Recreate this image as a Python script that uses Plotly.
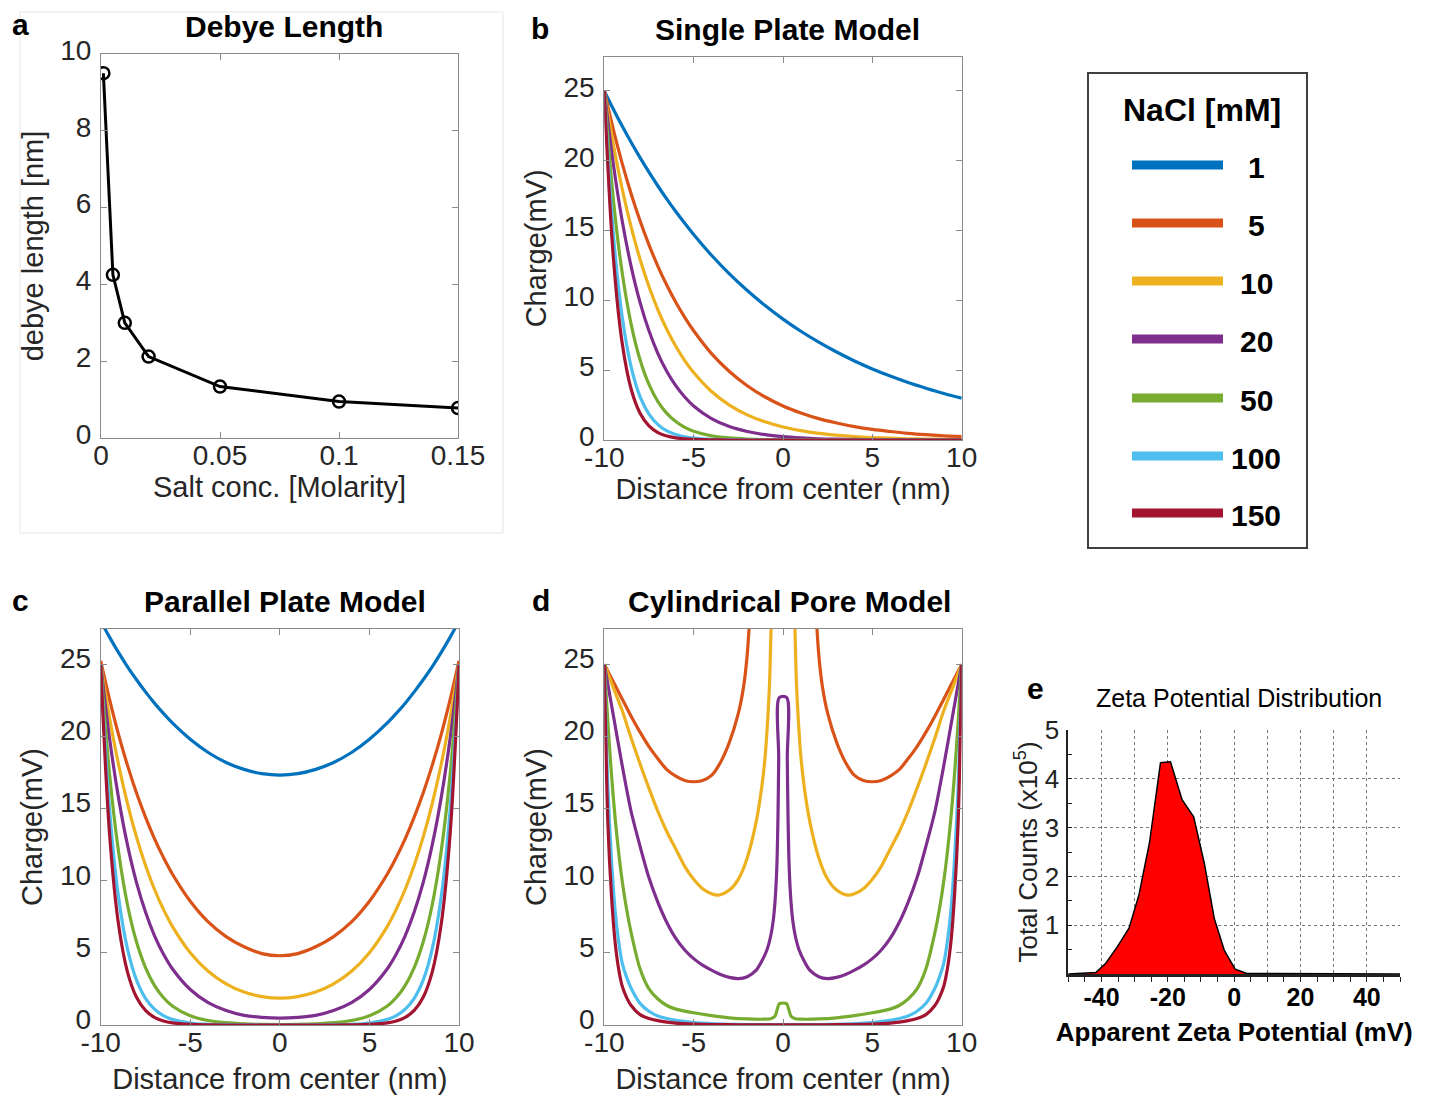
import plotly.graph_objects as go

FONT = "Arial, 'Liberation Sans', Helvetica, sans-serif"
W, H = 1437, 1100

# ---------------- data ----------------
nacl_labels = ["1", "5", "10", "20", "50", "100", "150"]
colors = ["#0072BD", "#D95319", "#EDB120", "#7E2F8E", "#77AC30", "#4DBEEE", "#A2142F"]

# (a) Debye length
salt_conc = [0.001, 0.005, 0.01, 0.02, 0.05, 0.1, 0.15]
debye_len = [9.5, 4.25, 3.0, 2.12, 1.34, 0.95, 0.78]

# (b) Single plate model
xb = [-10, -9.5, -9, -8.5, -8, -7.5, -7, -6.5, -6, -5.5, -5, -4, -3, -2, -1, 0,
      1, 2, 3, 4, 5, 6, 7, 8, 9, 10]
b_1 = [25.0, 23.71, 22.48, 21.32, 20.22, 19.18, 18.19, 17.25, 16.36, 15.52, 14.72, 13.23, 11.90,
       10.71, 9.63, 8.66, 7.79, 7.01, 6.30, 5.66, 5.09, 4.58, 4.12, 3.71, 3.33, 3.00]
b_5 = [25.0, 22.26, 19.81, 17.64, 15.70, 13.98, 12.44, 11.08, 9.86, 8.78, 7.82, 6.19, 4.91,
       3.89, 3.08, 2.44, 1.94, 1.53, 1.22, 0.96, 0.76, 0.61, 0.48, 0.38, 0.30, 0.24]
b_10 = [25.0, 21.21, 17.99, 15.26, 12.95, 10.99, 9.32, 7.91, 6.71, 5.69, 4.83, 3.47, 2.50,
        1.80, 1.30, 0.93, 0.67, 0.48, 0.35, 0.25, 0.18, 0.13, 0.09, 0.07, 0.05, 0.03]
b_20 = [25.0, 19.81, 15.70, 12.44, 9.86, 7.82, 6.19, 4.91, 3.89, 3.08, 2.44, 1.53, 0.96,
        0.61, 0.38, 0.24, 0.15, 0.09, 0.06, 0.04, 0.02, 0.01, 0.01, 0.0, 0.0, 0.0]
b_50 = [25.0, 17.31, 11.99, 8.30, 5.75, 3.98, 2.75, 1.91, 1.32, 0.91, 0.63, 0.30, 0.15,
        0.07, 0.03, 0.02, 0.01, 0.0, 0.0, 0.0, 0.0, 0.0, 0.0, 0.0, 0.0, 0.0]
b_100 = [25.0, 14.85, 8.82, 5.24, 3.11, 1.85, 1.10, 0.65, 0.39, 0.23, 0.14, 0.05, 0.02,
         0.01, 0.0, 0.0, 0.0, 0.0, 0.0, 0.0, 0.0, 0.0, 0.0, 0.0, 0.0, 0.0]
b_150 = [25.0, 13.17, 6.94, 3.65, 1.92, 1.01, 0.53, 0.28, 0.15, 0.08, 0.04, 0.01, 0.0,
         0.0, 0.0, 0.0, 0.0, 0.0, 0.0, 0.0, 0.0, 0.0, 0.0, 0.0, 0.0, 0.0]

# (c) Parallel plate model
xc = [-10, -9.5, -9, -8.5, -8, -7.5, -7, -6.5, -6, -5, -4, -3, -2, -1, 0,
      1, 2, 3, 4, 5, 6, 6.5, 7, 7.5, 8, 8.5, 9, 9.5, 10]
c_1 = [28.00, 26.87, 25.81, 24.83, 23.93, 23.09, 22.31, 21.60, 20.94, 19.81, 18.89, 18.20, 17.72, 17.42, 17.32,
       17.42, 17.72, 18.20, 18.89, 19.81, 20.94, 21.60, 22.31, 23.09, 23.93, 24.83, 25.81, 26.87, 28.00]
c_5 = [25.24, 22.53, 20.11, 17.98, 16.08, 14.41, 12.92, 11.62, 10.47, 8.58, 7.15, 6.13, 5.42, 4.95, 4.8,
       4.95, 5.42, 6.13, 7.15, 8.58, 10.47, 11.62, 12.92, 14.41, 16.08, 17.98, 20.11, 22.53, 25.24]
c_10 = [25.03, 21.25, 18.04, 15.32, 13.02, 11.07, 9.41, 8.02, 6.84, 5.01, 3.72, 2.85, 2.28, 1.97, 1.86,
        1.97, 2.28, 2.85, 3.72, 5.01, 6.84, 8.02, 9.41, 11.07, 13.02, 15.32, 18.04, 21.25, 25.03]
c_20 = [25.0, 19.81, 15.71, 12.45, 9.87, 7.83, 6.20, 4.92, 3.90, 2.46, 1.55, 1.00, 0.67, 0.53, 0.48,
        0.53, 0.67, 1.00, 1.55, 2.46, 3.90, 4.92, 6.20, 7.83, 9.87, 12.45, 15.71, 19.81, 25.0]
c_50 = [25.0, 17.31, 11.99, 8.30, 5.75, 3.98, 2.75, 1.91, 1.32, 0.64, 0.31, 0.16, 0.08, 0.04, 0.03,
        0.04, 0.08, 0.16, 0.31, 0.64, 1.32, 1.91, 2.75, 3.98, 5.75, 8.30, 11.99, 17.31, 25.0]
c_100 = [25.0, 14.85, 8.82, 5.24, 3.11, 1.85, 1.10, 0.65, 0.39, 0.14, 0.05, 0.02, 0.01, 0.0, 0.0,
         0.0, 0.01, 0.02, 0.05, 0.14, 0.39, 0.65, 1.10, 1.85, 3.11, 5.24, 8.82, 14.85, 25.0]
c_150 = [25.0, 13.17, 6.94, 3.65, 1.92, 1.01, 0.53, 0.28, 0.15, 0.04, 0.01, 0.0, 0.0, 0.0, 0.0,
         0.0, 0.0, 0.0, 0.01, 0.04, 0.15, 0.28, 0.53, 1.01, 1.92, 3.65, 6.94, 13.17, 25.0]

# (d) Cylindrical pore model (1 mM curve lies entirely above the shown range)
d5_x = [-10, -9.5, -9, -8.5, -8, -7.5, -7, -6.5, -6, -5.5, -5, -4.5, -4, -3.5, -3, -2.5, -2.2, -2.0, -1.85,
        None,
        1.85, 2.0, 2.2, 2.5, 3, 3.5, 4, 4.5, 5, 5.5, 6, 6.5, 7, 7.5, 8, 8.5, 9, 9.5, 10]
d5_y = [25.0, 23.8, 22.6, 21.4, 20.3, 19.3, 18.45, 17.7, 17.25, 16.95, 16.86, 16.95, 17.3, 18.2, 19.6, 21.6, 23.5, 25.7, 28.5,
        None,
        28.5, 25.7, 23.5, 21.6, 19.6, 18.2, 17.3, 16.95, 16.86, 16.95, 17.25, 17.7, 18.45, 19.3, 20.3, 21.4, 22.6, 23.8, 25.0]
d10_x = [-10, -9.5, -9, -8.5, -8, -7.5, -7, -6.5, -6, -5.5, -5, -4.5, -4, -3.6, -3, -2.5, -2, -1.5, -1.2, -1.0, -0.85, -0.75, -0.65,
         None,
         0.65, 0.75, 0.85, 1.0, 1.2, 1.5, 2, 2.5, 3, 3.6, 4, 4.5, 5, 5.5, 6, 6.5, 7, 7.5, 8, 8.5, 9, 9.5, 10]
d10_y = [25.0, 23.4, 21.8, 19.9, 18.1, 16.4, 14.8, 13.4, 12.2, 11.0, 10.1, 9.45, 9.1, 9.0, 9.35, 10.1, 11.6, 14.1, 16.4, 18.6, 21.3, 23.8, 28.5,
         None,
         28.5, 23.8, 21.3, 18.6, 16.4, 14.1, 11.6, 10.1, 9.35, 9.0, 9.1, 9.45, 10.1, 11.0, 12.2, 13.4, 14.8, 16.4, 18.1, 19.9, 21.8, 23.4, 25.0]
d20_x = [-10, -9.5, -9, -8.5, -8, -7.5, -7, -6.5, -6, -5.5, -5, -4.5, -4, -3.5, -3, -2.5, -2, -1.5, -1.2, -0.9, -0.7, -0.55, -0.45, -0.35, -0.28, -0.24, -0.21,
         0.21, 0.24, 0.28, 0.35, 0.45, 0.55, 0.7, 0.9, 1.2, 1.5, 2, 2.5, 3, 3.5, 4, 4.5, 5, 5.5, 6, 6.5, 7, 7.5, 8, 8.5, 9, 9.5, 10]
d20_y = [25.0, 21.5, 18.0, 14.8, 12.4, 10.2, 8.5, 7.1, 6.0, 5.2, 4.6, 4.15, 3.8, 3.5, 3.3, 3.22, 3.35, 3.8, 4.4, 5.2, 6.1, 7.2, 8.5, 10.8, 14.5, 18.5, 22.7,
         22.7, 18.5, 14.5, 10.8, 8.5, 7.2, 6.1, 5.2, 4.4, 3.8, 3.35, 3.22, 3.3, 3.5, 3.8, 4.15, 4.6, 5.2, 6.0, 7.1, 8.5, 10.2, 12.4, 14.8, 18.0, 21.5, 25.0]
d50_x = [-10, -9.8, -9.6, -9.4, -9.2, -9.0, -8.75, -8.5, -8.0, -7.5, -7.0, -6.5, -6.0, -5.0, -4.0, -3.0, -2.0, -1.2, -0.7, -0.45, -0.32, -0.22, -0.15,
         0.15, 0.22, 0.32, 0.45, 0.7, 1.2, 2.0, 3.0, 4.0, 5.0, 6.0, 6.5, 7.0, 7.5, 8.0, 8.5, 8.75, 9.0, 9.2, 9.4, 9.6, 9.8, 10]
d50_y = [25.0, 21.0, 17.4, 14.4, 12.0, 10.0, 8.0, 6.4, 3.9, 2.5, 1.8, 1.35, 1.1, 0.85, 0.65, 0.5, 0.42, 0.4, 0.43, 0.6, 1.1, 1.45, 1.5,
         1.5, 1.45, 1.1, 0.6, 0.43, 0.4, 0.42, 0.5, 0.65, 0.85, 1.1, 1.35, 1.8, 2.5, 3.9, 6.4, 8.0, 10.0, 12.0, 14.4, 17.4, 21.0, 25.0]
d100_x = [-10, -9.8, -9.6, -9.4, -9.2, -9.0, -8.75, -8.5, -8.0, -7.5, -7.0, -6.5, -6.0, -5.0, -4.0, -3.0, -2.0, -1.0, 0,
          1.0, 2.0, 3.0, 4.0, 5.0, 6.0, 6.5, 7.0, 7.5, 8.0, 8.5, 8.75, 9.0, 9.2, 9.4, 9.6, 9.8, 10]
d100_y = [25.0, 16.5, 11.5, 8.0, 5.8, 4.3, 3.3, 2.55, 1.5, 0.95, 0.62, 0.45, 0.32, 0.17, 0.09, 0.05, 0.03, 0.02, 0.02,
          0.02, 0.03, 0.05, 0.09, 0.17, 0.32, 0.45, 0.62, 0.95, 1.5, 2.55, 3.3, 4.3, 5.8, 8.0, 11.5, 16.5, 25.0]
d150_x = [-10, -9.8, -9.6, -9.4, -9.2, -9.0, -8.75, -8.5, -8.0, -7.5, -7.0, -6.5, -6.0, -5.0, -4.0, -3.0, -2.0, -1.0, 0,
          1.0, 2.0, 3.0, 4.0, 5.0, 6.0, 6.5, 7.0, 7.5, 8.0, 8.5, 8.75, 9.0, 9.2, 9.4, 9.6, 9.8, 10]
d150_y = [25.0, 14.0, 9.0, 5.8, 3.9, 2.7, 1.9, 1.35, 0.72, 0.45, 0.3, 0.2, 0.13, 0.06, 0.03, 0.02, 0.01, 0.01, 0.01,
          0.01, 0.01, 0.02, 0.03, 0.06, 0.13, 0.2, 0.3, 0.45, 0.72, 1.35, 1.9, 2.7, 3.9, 5.8, 9.0, 14.0, 25.0]

# (e) Zeta potential distribution
zeta_mv = [-50, -44.7, -41.7, -38.7, -35.2, -31.7, -28.7, -25.5, -22.2, -19.2, -15.7, -12.2, -9.0, -6.0, -3.0, 0.3, 3.8, 50]
zeta_counts = [0, 0.01, 0.03, 0.22, 0.56, 0.94, 1.62, 2.7, 4.33, 4.35, 3.57, 3.22, 2.27, 1.14, 0.49, 0.10, 0.01, 0]

dist_ticks = [-10, -5, 0, 5, 10]
dist_ticktext = ["-10", "-5", "0", "5", "10"]
charge_ticks = [0, 5, 10, 15, 20, 25]
# plain hyphen for negative zeta tick labels
zeta_label_alias = {"\u221240": "-40", "\u221220": "-20"}

# ---------------- figure ----------------
def px(x):
    return x / W

def py(y):
    return 1 - y / H

fig = go.Figure()
LW = 3.2

# (a)
fig.add_trace(go.Scatter(x=salt_conc, y=debye_len, mode="lines+markers",
                         line=dict(color="black", width=3),
                         marker=dict(symbol="circle-open", size=12, color="black", line=dict(width=2.5)),
                         xaxis="x", yaxis="y", showlegend=False))

# (b)
b_series = [b_1, b_5, b_10, b_20, b_50, b_100, b_150]
for ys, col, lab in zip(b_series, colors, nacl_labels):
    fig.add_trace(go.Scatter(x=xb, y=ys, mode="lines", line=dict(color=col, width=LW, shape="spline"),
                             name=lab + " mM", xaxis="x2", yaxis="y2", showlegend=False))

# (c)
c_series = [c_1, c_5, c_10, c_20, c_50, c_100, c_150]
for ys, col, lab in zip(c_series, colors, nacl_labels):
    fig.add_trace(go.Scatter(x=xc, y=ys, mode="lines", line=dict(color=col, width=LW, shape="spline"),
                             name=lab + " mM", xaxis="x3", yaxis="y3", showlegend=False))

# (d)
d_series = [(d5_x, d5_y), (d10_x, d10_y), (d20_x, d20_y), (d50_x, d50_y), (d100_x, d100_y), (d150_x, d150_y)]
for (xs, ys), col, lab in zip(d_series, colors[1:], nacl_labels[1:]):
    fig.add_trace(go.Scatter(x=xs, y=ys, mode="lines", connectgaps=False,
                             line=dict(color=col, width=LW, shape="spline", smoothing=0.8),
                             name=lab + " mM", xaxis="x4", yaxis="y4", showlegend=False))

# (e)
fig.add_trace(go.Scatter(x=zeta_mv, y=zeta_counts, mode="lines", fill="tozeroy",
                         fillcolor="#FF0000", line=dict(color="black", width=1.5),
                         xaxis="x5", yaxis="y5", showlegend=False))

tick_font = dict(family=FONT, size=28, color="#262626")
title_font = dict(family=FONT, size=29, color="#262626")
box_axis = dict(showline=True, linecolor="#8a8a8a", linewidth=1, mirror="ticks", ticks="inside",
                ticklen=6, tickcolor="#8a8a8a", tickfont=tick_font, showgrid=False, zeroline=False,
                automargin=False)
xbox = dict(box_axis, ticklabelstandoff=-8)
ybox = dict(box_axis, ticklabelstandoff=3)

fig.update_layout(
    template="none",
    width=W, height=H, margin=dict(l=0, r=0, t=0, b=0, autoexpand=False),
    paper_bgcolor="white", plot_bgcolor="white",
    font=dict(family=FONT, color="#262626"),
    showlegend=False,
    xaxis=dict(xbox, domain=[px(101), px(458)], range=[0, 0.15], tickvals=[0, 0.05, 0.1, 0.15],
               ticktext=["0", "0.05", "0.1", "0.15"],
               anchor="y", title=dict(text="Salt conc. [Molarity]", font=title_font, standoff=6)),
    yaxis=dict(ybox, domain=[py(438), py(54)], range=[0, 10], tickvals=[0, 2, 4, 6, 8, 10],
               ticklabelshift=-4,
               anchor="x", title=dict(text="debye length [nm]", font=title_font, standoff=8)),
    xaxis2=dict(xbox, domain=[px(604.3), px(961.7)], range=[-10, 10], tickvals=dist_ticks,
                ticktext=dist_ticktext,
                anchor="y2", title=dict(text="Distance from center (nm)", font=title_font, standoff=6)),
    yaxis2=dict(ybox, domain=[py(440), py(56.7)], range=[0, 27.45], tickvals=charge_ticks,
                ticklabelshift=-4,
                anchor="x2", title=dict(text="Charge(mV)", font=title_font, standoff=8)),
    xaxis3=dict(xbox, domain=[px(100.7), px(459)], range=[-10, 10], tickvals=dist_ticks,
                ticktext=dist_ticktext,
                anchor="y3", title=dict(text="Distance from center (nm)", font=title_font, standoff=12)),
    yaxis3=dict(ybox, domain=[py(1025), py(629)], range=[0, 27.45], tickvals=charge_ticks,
                ticklabelshift=-6,
                anchor="x3", title=dict(text="Charge(mV)", font=title_font, standoff=8)),
    xaxis4=dict(xbox, domain=[px(604.3), px(961.7)], range=[-10, 10], tickvals=dist_ticks,
                ticktext=dist_ticktext,
                anchor="y4", title=dict(text="Distance from center (nm)", font=title_font, standoff=12)),
    yaxis4=dict(ybox, domain=[py(1025), py(629)], range=[0, 27.45], tickvals=charge_ticks,
                ticklabelshift=-6,
                anchor="x4", title=dict(text="Charge(mV)", font=title_font, standoff=8)),
    xaxis5=dict(domain=[px(1068.3), px(1400)], range=[-50, 50], anchor="y5", automargin=False,
                tickmode="linear", tick0=0, dtick=10, ticklabelstep=2, labelalias=zeta_label_alias,
                showline=True, linecolor="#222222", linewidth=3, ticks="outside", ticklen=5,
                tickcolor="#222222", showgrid=True, gridcolor="#777777", griddash="dot", gridwidth=1,
                zeroline=False, ticklabelstandoff=-6,
                minor=dict(dtick=5, tick0=0, ticks="outside", ticklen=5, tickcolor="#222222", showgrid=False),
                tickfont=dict(family=FONT, size=25, color="black", weight="bold"),
                title=dict(text="Apparent Zeta Potential (mV)", standoff=13,
                           font=dict(family=FONT, size=26, color="black", weight="bold"))),
    yaxis5=dict(domain=[py(974), py(730)], range=[0, 5], anchor="x5", automargin=False,
                tickvals=[1, 2, 3, 4, 5], showline=True, linecolor="#222222", linewidth=2,
                ticks="inside", ticklen=4, tickcolor="#222222",
                showgrid=True, gridcolor="#777777", griddash="dot", gridwidth=1, zeroline=False,
                minor=dict(dtick=0.5, tick0=0, ticks="inside", ticklen=4, tickcolor="#222222", showgrid=False),
                tickfont=dict(family=FONT, size=26, color="#222222"), ticklabelstandoff=2,
                title=dict(text="Total Counts (x10<sup>5</sup>)", standoff=0,
                           font=dict(family=FONT, size=26, color="#222222"))),
)

shapes = []
annotations = []

# faint frame around panel a
shapes.append(dict(type="rect", xref="paper", yref="paper", x0=px(20), x1=px(503), y0=py(533), y1=py(12),
                   line=dict(color="#e6e6e6", width=1), layer="below"))

# legend box
shapes.append(dict(type="rect", xref="paper", yref="paper", x0=px(1088), x1=px(1307), y0=py(548), y1=py(73),
                   line=dict(color="#404040", width=2)))
annotations.append(dict(text="<b>NaCl [mM]</b>", x=px(1202), y=py(110), xref="paper", yref="paper",
                        showarrow=False, font=dict(family=FONT, size=32, color="black"),
                        xanchor="center", yanchor="middle"))
leg_y = [165, 223, 281, 339, 398, 456, 513]
for yy, col, lab in zip(leg_y, colors, nacl_labels):
    shapes.append(dict(type="line", xref="paper", yref="paper", x0=px(1132), x1=px(1223), y0=py(yy), y1=py(yy),
                       line=dict(color=col, width=9)))
    annotations.append(dict(text="<b>" + lab + "</b>", x=px(1256), y=py(yy + 2), xref="paper", yref="paper",
                            showarrow=False, font=dict(family=FONT, size=30, color="black"),
                            xanchor="center", yanchor="middle"))

# panel titles
titles = [("Debye Length", 283.5, 27), ("Single Plate Model", 787, 30),
          ("Parallel Plate Model", 285, 601), ("Cylindrical Pore Model", 789.5, 601)]
for t, x0, y0 in titles:
    annotations.append(dict(text="<b>" + t + "</b>", x=px(x0), y=py(y0), xref="paper", yref="paper",
                            showarrow=False, font=dict(family=FONT, size=30, color="black"),
                            xanchor="center", yanchor="middle"))
annotations.append(dict(text="Zeta Potential Distribution", x=px(1239), y=py(698), xref="paper", yref="paper",
                        showarrow=False, font=dict(family=FONT, size=25, color="black"),
                        xanchor="center", yanchor="middle"))

# panel letters
letters = [("a", 20, 25), ("b", 540, 28), ("c", 20, 600), ("d", 541, 600), ("e", 1035, 688)]
for t, x0, y0 in letters:
    annotations.append(dict(text="<b>" + t + "</b>", x=px(x0), y=py(y0), xref="paper", yref="paper",
                            showarrow=False, font=dict(family=FONT, size=30, color="black"),
                            xanchor="center", yanchor="middle"))

fig.update_layout(shapes=shapes, annotations=annotations)

fig.write_html("out.html")
